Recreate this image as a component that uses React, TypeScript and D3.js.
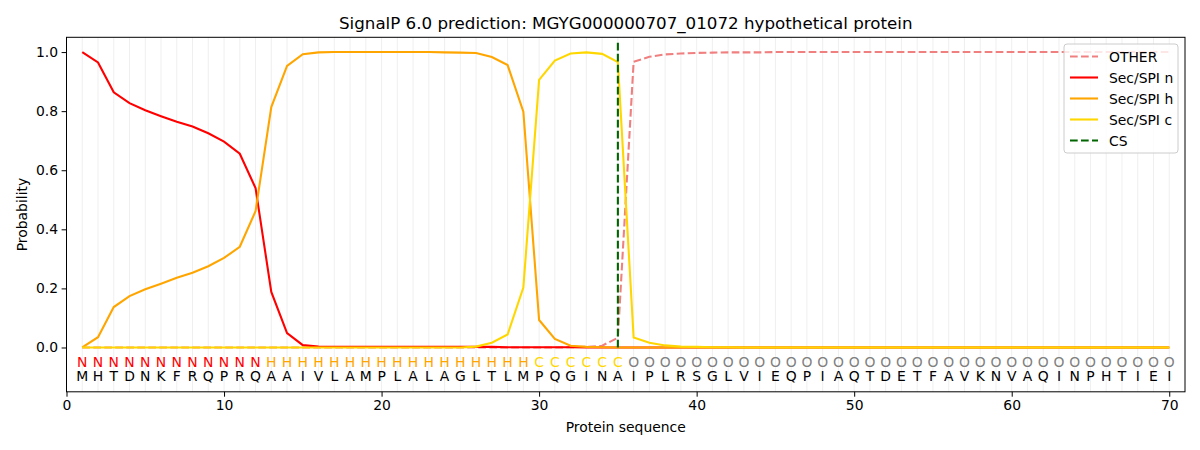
import * as d3 from "d3";
import { useEffect, useRef } from "react";

const sequence = "MHTDNKFRQPRQAAIVLAMPLALAGLTLMPQGINAIPLRSGLVIEQPIAQTDETFAVKNVAQINPHTIEI".split("");
const labels = "NNNNNNNNNNNNHHHHHHHHHHHHHHHHHCCCCCCOOOOOOOOOOOOOOOOOOOOOOOOOOOOOOOOOOO".split("");

// probabilities per residue (positions 1..70)
const secN = [
	1.0, 0.965, 0.864, 0.827, 0.803, 0.783, 0.764, 0.748, 0.725, 0.697,
	0.656, 0.54, 0.188, 0.049, 0.008, 0.003, 0.002, 0.002, 0.002, 0.002,
	0.002, 0.002, 0.002, 0.002, 0.002, 0.002, 0.002, 0.001, 0.001, 0.001,
	0.001, 0.001, 0.0, 0.0, 0.0, 0, 0, 0, 0, 0,
	0, 0, 0, 0, 0, 0, 0, 0, 0, 0,
	0, 0, 0, 0, 0, 0, 0, 0, 0, 0,
	0, 0, 0, 0, 0, 0, 0, 0, 0, 0,
];
const secH = [
	0.0, 0.035, 0.137, 0.174, 0.197, 0.216, 0.236, 0.253, 0.275, 0.303,
	0.341, 0.461, 0.814, 0.953, 0.993, 0.999, 1.0, 1.0, 1.0, 1.0,
	1.0, 1.0, 1.0, 0.999, 0.998, 0.997, 0.983, 0.956, 0.798, 0.093,
	0.029, 0.006, 0.002, 0.001, 0.0, 0, 0, 0, 0, 0,
	0, 0, 0, 0, 0, 0, 0, 0, 0, 0,
	0, 0, 0, 0, 0, 0, 0, 0, 0, 0,
	0, 0, 0, 0, 0, 0, 0, 0, 0, 0,
];
const secC = [
	0, 0, 0, 0, 0, 0, 0, 0, 0, 0,
	0, 0, 0, 0, 0, 0, 0, 0, 0, 0,
	0, 0, 0, 0, 0, 0.003, 0.016, 0.044, 0.203, 0.906,
	0.971, 0.995, 0.999, 0.994, 0.966, 0.034, 0.016, 0.007, 0.003, 0.002,
	0.001, 0.001, 0, 0, 0, 0, 0, 0, 0, 0,
	0, 0, 0, 0, 0, 0, 0, 0, 0, 0,
	0, 0, 0, 0, 0, 0, 0, 0, 0, 0,
];
const other = [
	0, 0, 0, 0, 0, 0, 0, 0, 0, 0,
	0, 0, 0, 0, 0, 0, 0, 0, 0, 0,
	0, 0, 0, 0, 0, 0, 0, 0, 0, 0,
	0, 0.001, 0.002, 0.006, 0.033, 0.967, 0.984, 0.992, 0.995, 0.997,
	0.998, 0.999, 0.999, 0.999, 1, 1, 1, 1, 1, 1,
	1, 1, 1, 1, 1, 1, 1, 1, 1, 1,
	1, 1, 1, 1, 1, 1, 1, 1, 1, 1,
];
const cleavageSite = 35;
const xTicks = [0, 10, 20, 30, 40, 50, 60, 70];
const yTicks = [0, 0.2, 0.4, 0.6, 0.8, 1.0];

const labelColor: Record<string, string> = {
	N: "red",
	H: "orange",
	C: "gold",
	O: "grey",
};

const series = [
	{ name: "OTHER", values: other, color: "lightcoral", dash: "7.7,3.3" },
	{ name: "Sec/SPI n", values: secN, color: "red", dash: null },
	{ name: "Sec/SPI h", values: secH, color: "orange", dash: null },
	{ name: "Sec/SPI c", values: secC, color: "gold", dash: null },
];

export default function App() {
	const ref = useRef<SVGSVGElement | null>(null);

	useEffect(() => {
		if (!ref.current) return;
		const svg = d3.select(ref.current);
		svg.selectAll("*").remove();

		const left = 66.5;
		const right = 1185;
		const top = 37.3;
		const bottom = 391.8;
		const font = "DejaVu Sans, sans-serif";

		const x = d3.scaleLinear().domain([0, 71]).range([left, right]);
		const y = d3.scaleLinear().domain([-0.15, 1.05]).range([bottom, top]);

		// vertical grid per residue
		svg
			.append("g")
			.selectAll("line")
			.data(sequence.map((_, i) => i + 1))
			.join("line")
			.attr("x1", (d) => x(d))
			.attr("x2", (d) => x(d))
			.attr("y1", top)
			.attr("y2", bottom)
			.attr("stroke", "#b0b0b0")
			.attr("stroke-opacity", 0.2)
			.attr("stroke-width", 1);

		const line = d3
			.line<number>()
			.x((_, i) => x(i + 1))
			.y((d) => y(d));

		svg
			.append("g")
			.attr("fill", "none")
			.attr("stroke-width", 2.1)
			.selectAll("path")
			.data(series)
			.join("path")
			.attr("d", (d) => line(d.values))
			.attr("stroke", (d) => d.color)
			.attr("stroke-dasharray", (d) => d.dash);

		svg
			.append("line")
			.attr("x1", x(cleavageSite))
			.attr("x2", x(cleavageSite))
			.attr("y1", y(0))
			.attr("y2", y(1.035))
			.attr("stroke", "darkgreen")
			.attr("stroke-width", 2.1)
			.attr("stroke-dasharray", "7.7,3.3");

		// residue labels
		const seqG = svg.append("g").attr("font-family", font).attr("font-size", 13.9).attr("text-anchor", "middle");
		seqG
			.selectAll("text.lab")
			.data(labels)
			.join("text")
			.attr("class", "lab")
			.attr("x", (_, i) => x(i + 1))
			.attr("y", y(-0.0644))
			.attr("fill", (d) => labelColor[d])
			.text((d) => d);
		seqG
			.selectAll("text.seq")
			.data(sequence)
			.join("text")
			.attr("class", "seq")
			.attr("x", (_, i) => x(i + 1))
			.attr("y", y(-0.115))
			.attr("fill", "black")
			.text((d) => d);

		// frame
		svg
			.append("rect")
			.attr("x", left)
			.attr("y", top)
			.attr("width", right - left)
			.attr("height", bottom - top)
			.attr("fill", "none")
			.attr("stroke", "black")
			.attr("stroke-width", 1);

		// axes
		const xAxis = svg
			.append("g")
			.attr("transform", `translate(0,${bottom})`)
			.call(d3.axisBottom(x).tickValues(xTicks).tickSize(4.9).tickPadding(3.5).tickFormat(d3.format("d")));
		const yAxis = svg
			.append("g")
			.attr("transform", `translate(${left},0)`)
			.call(d3.axisLeft(y).tickValues(yTicks).tickSize(4.9).tickPadding(3.5).tickFormat(d3.format(".1f")));
		[xAxis, yAxis].forEach((g) => {
			g.select(".domain").remove();
			g.selectAll("text").attr("font-family", font).attr("font-size", 13.9).attr("fill", "black");
			g.selectAll("line").attr("stroke", "black");
		});

		svg
			.append("text")
			.attr("x", (left + right) / 2)
			.attr("y", 432)
			.attr("text-anchor", "middle")
			.attr("font-family", font)
			.attr("font-size", 13.9)
			.text("Protein sequence");

		svg
			.append("text")
			.attr("transform", `translate(27,${(top + bottom) / 2}) rotate(-90)`)
			.attr("text-anchor", "middle")
			.attr("font-family", font)
			.attr("font-size", 13.9)
			.text("Probability");

		svg
			.append("text")
			.attr("x", (left + right) / 2)
			.attr("y", 29)
			.attr("text-anchor", "middle")
			.attr("font-family", font)
			.attr("font-size", 16.7)
			.text("SignalP 6.0 prediction: MGYG000000707_01072 hypothetical protein");

		// legend
		const legendItems = [
			...series.map((s) => ({ name: s.name, color: s.color, dash: s.dash })),
			{ name: "CS", color: "darkgreen", dash: "7.7,3.3" },
		];
		const lg = svg.append("g").attr("transform", "translate(1064,44)");
		lg.append("rect")
			.attr("width", 114)
			.attr("height", 109)
			.attr("rx", 3)
			.attr("fill", "white")
			.attr("fill-opacity", 0.8)
			.attr("stroke", "#cccccc");
		const item = lg
			.selectAll("g")
			.data(legendItems)
			.join("g")
			.attr("transform", (_, i) => `translate(0,${12.5 + i * 21})`);
		item
			.append("line")
			.attr("x1", 6)
			.attr("x2", 34)
			.attr("stroke", (d) => d.color)
			.attr("stroke-width", 2.1)
			.attr("stroke-dasharray", (d) => d.dash);
		item
			.append("text")
			.attr("x", 45)
			.attr("dy", "0.36em")
			.attr("font-family", font)
			.attr("font-size", 13.9)
			.text((d) => d.name);
	}, []);

	return <svg ref={ref} width={1200} height={450} style={{ display: "block", margin: -8 }}></svg>;
}
